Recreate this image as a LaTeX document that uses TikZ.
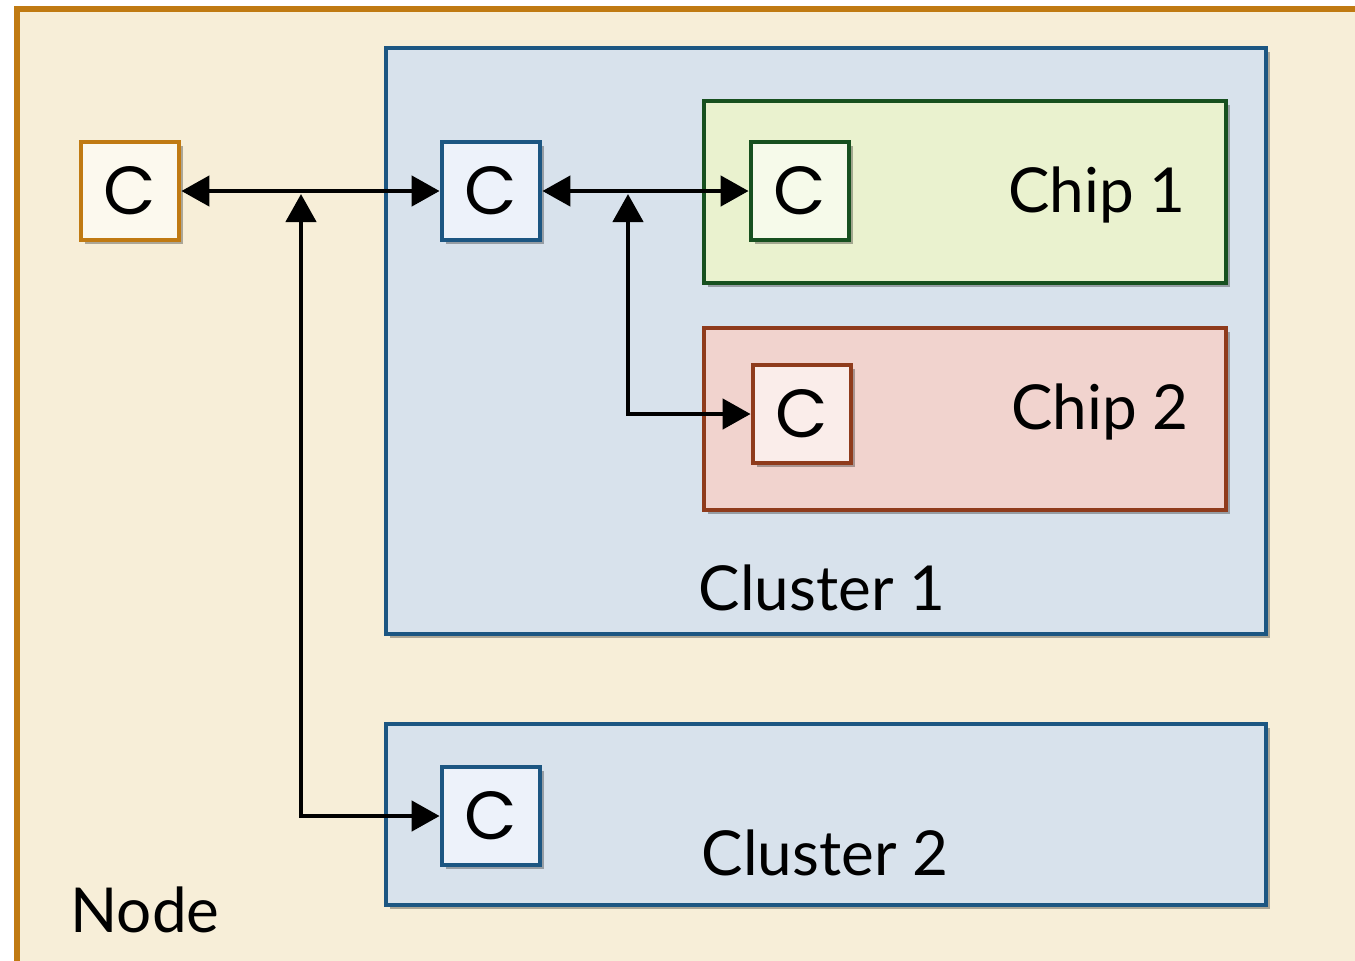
\documentclass[tikz,border=0pt]{standalone}
\usepackage{fontspec}
\setmainfont{Lato}
\newfontfamily\cfont{Poppins}
\usetikzlibrary{arrows.meta, positioning, shadows}

\definecolor{nodeline}{HTML}{C07A12}
\definecolor{nodefill}{HTML}{F7EED8}
\definecolor{nodecfill}{HTML}{FCF9EE}
\definecolor{clline}{HTML}{1C5682}
\definecolor{clfill}{HTML}{D8E2EC}
\definecolor{clcfill}{HTML}{EDF2FA}
\definecolor{chipaline}{HTML}{17501F}
\definecolor{chipafill}{HTML}{EAF2CF}
\definecolor{chipacfill}{HTML}{F6FAEA}
\definecolor{chipbline}{HTML}{8F3B1C}
\definecolor{chipbfill}{HTML}{F1D3CE}
\definecolor{chipbcfill}{HTML}{FAEDEA}

\begin{document}
\begin{tikzpicture}[
            x=0.5pt, y=-0.5pt,
            every node/.style={font=\fontsize{31}{36}\selectfont},
            shade/.style={drop shadow={shadow xshift=2pt, shadow yshift=-2pt, fill=black, opacity=0.3}},
            box/.style={draw, line width=2.4pt, inner sep=0pt, shade},
            cbox/.style={box, minimum size=49pt, font=\cfont\fontsize{34}{38}\selectfont},
            link/.style={line width=2.3pt, {Triangle[length=14pt, width=15pt]}-{Triangle[length=14pt, width=15pt]}}
        ]

        \useasboundingbox (0,0) rectangle (1355,960);

        % containers
        \node[draw=nodeline, fill=nodefill, line width=2.6pt, minimum width=701.5pt, minimum height=500.5pt] (node) at (718.5,509.5) {};
        \node[box, draw=clline, fill=clfill, minimum width=440pt, minimum height=293pt] (cluster1) at (826,341) {};
        \node[box, draw=chipaline, fill=chipafill, minimum width=261pt, minimum height=91pt] (chip1) at (965,192) {};
        \node[box, draw=chipbline, fill=chipbfill, minimum width=261pt, minimum height=91pt] (chip2) at (965,419) {};
        \node[box, draw=clline, fill=clfill, minimum width=440pt, minimum height=90.5pt] (cluster2) at (826,814.5) {};

        \node (nodelabel) at (145,910) {Node};
        \node (cl1label) at (822,588) {Cluster 1};
        \node (cl2label) at (825,853) {Cluster 2};
        \node (chip1label) at (1097,195) {Chip 1};
        \node (chip2label) at (1100,412) {Chip 2};

        % caches
        \node[cbox, draw=nodeline, fill=nodecfill] (cn) at (130,191) {C};
        \node[cbox, draw=clline, fill=clcfill] (ca) at (491,191) {C};
        \node[cbox, draw=chipaline, fill=chipacfill] (cx) at (800,191) {C};
        \node[cbox, draw=chipbline, fill=chipbcfill] (cy) at (802,414) {C};
        \node[cbox, draw=clline, fill=clcfill] (cb) at (491,816) {C};

        \coordinate (j1) at (301,194);
        \coordinate (j2) at (628,194);

        \draw[link] (cn.east) -- (ca.west);
        \draw[link] (ca.east) -- (cx.west);
        \draw[link] (j1) |- (cb.west);
        \draw[link] (j2) |- (cy.west);

    \end{tikzpicture}
\end{document}
